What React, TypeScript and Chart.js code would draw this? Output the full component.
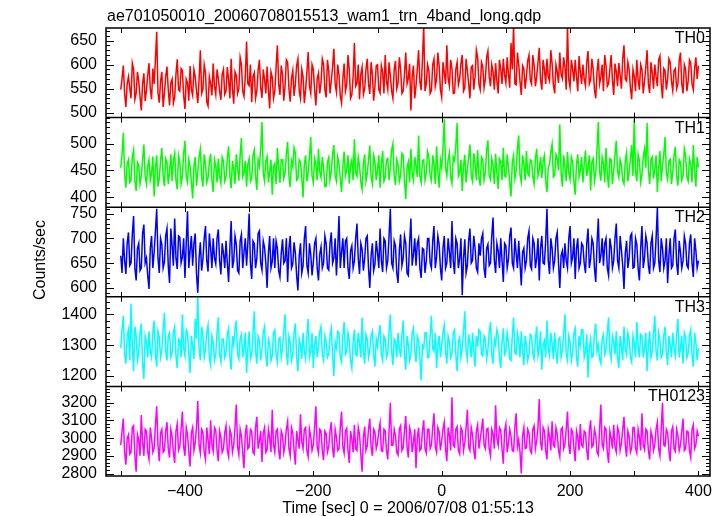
import React, { useEffect, useRef } from 'react';
import { Chart, registerables } from 'chart.js';

Chart.register(...registerables);

const TITLE = 'ae701050010_20060708015513_wam1_trn_4band_long.qdp';
const X_LABEL = 'Time [sec] 0 = 2006/07/08 01:55:13';
const Y_LABEL = 'Counts/sec';

const TIME_START = -500;
const TIME_STEP = 2;
const X_MIN = -523;
const X_MAX = 418;
const X_TICKS = [-400, -200, 0, 200, 400];

const PANEL_NAMES = ['TH0', 'TH1', 'TH2', 'TH3', 'TH0123'];
const PANEL_COLORS = ['#ff0000', '#00ff00', '#0000ff', '#00ffff', '#ff00ff'];

const TH0 = [
  548,571,598,540,512,560,575,552,530,603,590,528,541,585,566,533,505,560,582,524,547,578,603,550,528,592,560,610,668,540,521,566,585,512,540,575,596,548,515,562,
  570,520,532,580,611,548,545,592,588,535,508,570,562,525,597,548,536,590,575,545,520,568,630,540,549,600,583,522,514,575,560,536,602,555,538,590,571,545,527,580,
  590,538,545,595,568,530,612,550,519,585,577,540,550,615,600,545,534,575,648,560,556,600,522,575,583,530,545,588,610,552,531,590,569,540,596,548,509,585,574,530,
  545,595,640,560,537,598,580,525,556,610,605,550,523,572,588,535,560,598,612,545,530,590,575,520,548,585,626,555,540,600,590,548,515,570,582,540,562,612,601,548,
  532,610,587,540,566,595,633,560,543,600,579,535,520,570,602,545,558,620,590,530,537,575,645,555,561,600,528,580,595,538,550,590,612,560,539,605,580,525,556,598,
  600,548,541,598,585,540,620,565,548,605,576,545,530,590,608,550,562,615,591,540,545,580,625,560,571,602,505,575,598,530,556,592,630,565,547,610,680,545,560,600,
  588,540,546,600,612,555,570,625,598,548,532,605,583,560,640,572,556,610,592,540,541,590,605,558,570,602,620,545,552,612,587,560,530,595,598,548,575,630,615,560,
  548,605,596,552,570,615,628,575,555,600,585,548,603,565,540,610,590,560,612,578,562,615,580,552,645,590,680,560,558,625,600,565,537,598,592,550,575,608,620,568,
  560,620,598,555,575,605,635,568,548,610,590,560,612,575,566,630,602,558,540,600,585,562,625,580,571,615,596,548,682,570,553,610,590,565,610,575,545,618,584,560,
  600,570,556,605,628,560,568,612,590,548,530,585,612,560,575,600,545,620,598,555,560,590,620,568,537,602,585,555,603,578,550,612,640,570,566,605,590,552,528,590,
  575,545,610,570,548,600,590,540,565,595,630,560,541,605,583,550,600,575,555,610,618,560,530,592,587,548,570,612,605,565,546,588,592,550,560,608,625,560,540,600,
  590,545,566,610,604,560,548,592,615,570,598,
];

const TH1 = [
  455,480,520,445,418,462,470,428,432,475,488,430,412,465,460,425,440,470,498,440,425,458,470,432,445,476,402,455,478,420,436,468,492,440,421,472,465,425,447,480,
  430,468,482,432,415,478,466,425,440,482,505,438,428,470,457,430,398,458,475,422,448,475,490,438,420,480,462,428,437,465,481,432,410,470,458,428,472,440,426,475,
  468,430,438,472,495,440,417,468,452,425,480,455,431,478,510,438,445,468,420,462,472,430,436,478,488,440,414,470,458,490,540,445,430,468,476,428,449,470,405,458,
  463,425,492,455,427,470,470,435,445,480,503,440,419,468,457,492,482,432,435,470,466,438,400,462,478,430,446,475,512,440,428,472,461,432,490,448,437,475,455,420,
  421,465,474,432,448,480,497,440,430,475,462,435,410,458,485,440,451,478,426,460,470,432,508,445,439,475,458,428,415,462,480,430,444,470,496,438,425,478,467,432,
  450,478,418,462,486,430,437,470,472,432,455,488,500,440,423,470,461,430,441,482,478,432,397,455,466,428,490,445,432,475,458,438,515,440,428,468,470,432,446,485,
  475,440,431,478,462,425,495,448,418,470,455,492,545,455,440,470,483,438,426,475,468,495,538,440,447,470,412,458,479,428,452,475,498,440,430,482,463,432,488,438,
  422,475,470,432,445,488,506,440,433,472,459,425,481,445,416,472,467,432,492,440,438,480,455,428,402,465,478,435,450,490,515,442,429,478,461,432,486,445,440,470,
  468,438,425,472,490,440,452,475,436,468,478,432,410,455,462,485,499,438,441,480,473,450,535,445,420,478,457,430,484,445,433,475,466,428,405,462,480,438,451,475,
  428,462,487,440,456,478,413,465,472,430,446,490,540,448,431,475,463,428,492,445,418,472,470,425,450,480,505,448,437,470,460,432,425,468,483,430,446,472,497,440,
  545,448,430,480,468,428,442,475,490,455,538,450,425,470,475,435,452,478,410,455,486,430,460,480,512,445,433,468,471,425,447,478,494,440,422,470,465,432,440,490,
  478,438,430,472,462,428,497,450,420,475,456,
];

const TH2 = [
  665,630,700,655,628,690,712,645,650,708,745,640,615,680,690,635,640,710,728,650,660,625,598,680,705,640,672,715,760,660,630,700,688,640,652,705,720,645,610,720,
  685,645,740,660,638,705,702,650,662,700,620,690,755,640,675,705,645,690,710,628,590,660,692,635,658,700,725,655,633,710,680,640,700,660,648,700,718,655,627,690,
  670,640,695,650,612,680,735,640,655,705,688,635,630,695,708,640,672,700,645,690,750,650,618,695,690,640,660,710,715,650,636,695,682,650,600,670,705,640,653,700,
  640,695,680,635,622,670,698,650,655,700,612,680,705,640,648,692,670,625,595,665,690,630,645,700,725,645,630,690,668,625,652,690,700,640,615,668,683,640,650,705,
  690,640,636,690,712,650,660,700,625,680,745,640,672,700,640,695,700,640,618,675,685,640,655,700,730,660,628,690,678,635,660,700,705,640,600,665,690,635,648,695,
  672,640,720,655,632,700,695,640,655,705,760,650,640,695,685,630,610,675,708,645,660,705,690,630,625,690,740,645,668,700,645,690,700,640,620,680,678,630,655,700,
  700,650,640,695,725,640,662,705,688,640,615,680,705,640,650,700,672,640,735,655,628,700,690,640,660,700,585,660,698,630,645,695,720,650,655,705,680,640,632,690,
  665,700,710,640,620,680,688,645,650,705,742,655,630,690,675,640,700,655,612,690,685,640,658,705,722,650,640,700,670,640,695,650,605,672,680,640,655,700,715,645,
  638,700,690,640,660,700,615,680,705,650,648,695,760,655,628,700,680,640,655,700,712,650,600,665,675,640,690,655,640,700,725,650,662,700,618,680,700,640,650,690,
  685,650,630,690,720,640,658,700,690,640,612,690,740,650,665,700,645,690,700,640,625,700,682,640,655,700,730,655,640,705,676,645,598,670,695,640,660,705,710,640,
  642,700,688,640,615,680,725,640,660,705,690,645,628,690,705,640,650,700,762,655,632,700,680,640,655,700,610,665,700,640,645,700,718,650,626,695,672,640,655,705,
  690,645,640,690,708,650,622,700,675,640,655,
];

const TH3 = [
  1290,1350,1395,1270,1240,1330,1350,1250,1435,1300,1215,1360,1330,1250,1275,1340,1370,1240,1190,1330,1310,1260,1345,1280,1260,1340,1380,1270,1230,1345,1325,1260,1285,1350,1405,1280,1250,1330,1340,1260,
  1275,1340,1360,1265,1225,1320,1315,1260,1400,1290,1265,1350,1340,1270,1210,1330,1300,1255,1385,1320,1460,1290,1250,1360,1330,1260,1285,1340,1365,1260,1235,1330,1310,1250,1270,1340,1390,1270,1245,1320,
  1320,1260,1275,1335,1355,1260,1220,1330,1300,1350,1380,1270,1255,1320,1335,1260,1290,1340,1210,1290,1345,1255,1270,1335,1410,1280,1240,1330,1315,1250,1285,1340,1360,1270,1230,1320,1305,1250,1265,1340,
  1350,1270,1245,1320,1325,1260,1290,1345,1400,1280,1235,1330,1310,1250,1270,1340,1370,1260,1215,1320,1300,1255,1340,1280,1255,1330,1385,1260,1280,1340,1225,1300,1330,1260,1295,1345,1360,1270,1250,1330,
  1310,1260,1270,1330,1355,1270,1200,1310,1290,1345,1340,1260,1245,1330,1375,1270,1280,1340,1315,1250,1225,1310,1350,1270,1265,1340,1305,1260,1390,1280,1240,1335,1320,1260,1285,1330,1345,1270,1230,1320,
  1295,1335,1365,1270,1250,1330,1320,1260,1275,1345,1400,1280,1235,1320,1310,1260,1340,1290,1260,1330,1380,1270,1220,1330,1300,1250,1270,1340,1355,1280,1245,1330,1315,1260,1185,1300,1290,1340,1340,1260,
  1260,1330,1395,1290,1280,1340,1225,1300,1330,1260,1300,1340,1365,1280,1240,1330,1310,1260,1275,1340,1350,1270,1215,1310,1325,1260,1290,1345,1410,1280,1255,1335,1305,1260,1340,1280,1230,1330,1295,1350,
  1345,1270,1265,1330,1320,1255,1285,1340,1375,1270,1240,1320,1300,1350,1330,1260,1225,1310,1355,1270,1280,1340,1310,1255,1250,1330,1390,1275,1270,1340,1315,1260,1345,1280,1235,1330,1300,1250,1270,1335,
  1330,1270,1255,1320,1360,1265,1290,1345,1220,1300,1315,1260,1380,1290,1265,1340,1305,1255,1340,1280,1240,1320,1325,1260,1285,1335,1400,1270,1250,1330,1310,1250,1275,1340,1355,1260,1230,1330,1300,1350,
  1350,1260,1280,1335,1195,1290,1320,1260,1265,1340,1370,1280,1300,1255,1240,1320,1335,1270,1285,1340,1390,1280,1255,1330,1310,1270,1345,1260,1225,1330,1295,1250,1360,1290,1270,1340,1320,1260,1245,1330,
  1305,1260,1375,1300,1260,1335,1330,1260,1290,1340,1215,1300,1345,1260,1280,1335,1395,1280,1250,1340,1315,1260,1270,1330,1360,1280,1235,1330,1300,1260,1340,1290,1265,1335,1385,1260,1290,1330,1240,1340,
  1325,1260,1275,1330,1350,1270,1230,1340,1310,1250,1290,
];

const TH0123 = [
  2960,3040,3110,2920,2850,3000,3020,2910,2920,3060,3070,2900,2810,3020,2990,2900,3130,2980,2900,3050,3040,2920,2880,3060,3000,2920,2945,3070,3180,2960,2870,3030,3050,2920,2930,3040,3090,2940,2890,3050,
  3010,2920,2860,3040,3080,2930,2950,3050,3150,2950,2900,3060,3020,2920,2840,3030,3060,2930,2975,3060,3210,2960,2915,3050,3035,2920,2880,3060,2990,2910,3100,2960,2925,3060,3045,2930,2870,3040,3005,2920,
  2940,3030,3070,2930,2895,3050,3020,2920,2960,3060,3190,2950,2905,3050,3010,2920,2830,3020,3075,2940,2950,3050,3040,2920,2910,3060,3120,2940,2985,3040,2865,3030,3060,2920,2935,3050,3000,2920,3160,2960,
  2920,3040,3050,2930,2880,3040,3015,2920,2965,3050,3095,2940,2900,3060,3030,2930,2850,3040,2990,2940,3135,2980,2940,3050,3060,2930,2895,3050,3010,2930,2960,3060,3180,2950,2915,3050,3040,2930,2875,3040,
  3025,2920,2950,3040,3090,2940,2890,3050,3005,2930,2940,3060,3150,2950,2915,3040,3055,2930,2860,3040,2995,2920,3075,2940,2930,3060,3020,2910,2810,3000,3065,2930,2955,3050,3110,2950,2900,3050,3035,2940,
  2970,3040,3085,2930,2925,3050,3040,2930,2880,3040,3200,2960,2960,3050,3015,2920,2905,3050,3070,2930,2945,3040,3125,2950,2890,3060,3030,2920,2975,3050,2830,3000,3060,2930,2940,3040,3100,2940,2915,3050,
  3050,2940,2960,3060,3140,2950,2920,3060,3035,2930,2985,3050,3090,2940,2870,3060,3015,2930,3230,2960,2950,3050,3065,2930,2910,3060,3040,2930,2975,3060,3160,2950,2930,3060,3020,2930,2880,3040,3075,2940,
  2995,3050,3110,2960,2940,3050,3055,2940,2900,3050,3025,2940,3185,3000,2960,3060,3045,2940,2855,3040,3080,2920,2970,3050,3010,2930,2925,3060,3140,2950,2990,2920,2800,3010,3060,2940,2945,3050,3030,2930,
  2915,3050,3070,2940,2985,3060,3220,2980,2930,3060,3040,2930,2880,3050,3010,2930,3095,2960,2950,3060,3025,2930,2895,3050,3060,2940,2965,3050,3150,2960,2910,3050,3035,2940,2870,3040,3005,2930,3080,2960,
  2950,3040,3030,2930,2875,3040,3100,2950,2960,3050,3015,2920,2905,3050,3190,2960,2940,3060,3050,2920,2860,3040,3000,2940,3075,2950,2920,3060,3035,2930,2970,3050,3120,2960,2895,3040,3010,2920,2945,3060,
  3060,2940,2915,3050,3005,2930,3140,2960,2935,3050,3040,2930,2880,3040,3010,2930,2965,3050,3090,2940,2900,3050,3200,2960,2955,3050,3030,2930,2870,3040,3065,2940,2925,3050,3015,2930,2960,3040,3110,2930,
  2940,3040,3035,2930,2890,3050,3075,2940,2960,3040,3010,
];

const TH0_TICKS = [500, 550, 600, 650];
const TH1_TICKS = [400, 450, 500];
const TH2_TICKS = [600, 650, 700, 750];
const TH3_TICKS = [1200, 1300, 1400];
const TH0123_TICKS = [2800, 2900, 3000, 3100, 3200];

const Y_MIN = [490, 382, 582, 1166, 2786];
const Y_MAX = [676, 548, 763, 1457, 3292];
const MINOR_STEP = [10, 10, 10, 20, 20];
const MAJOR_STEP = [50, 50, 50, 100, 100];

const FONT = '"Liberation Sans", Arial, Helvetica, sans-serif';

const SERIES = [TH0, TH1, TH2, TH3, TH0123];
const TICKS = [TH0_TICKS, TH1_TICKS, TH2_TICKS, TH3_TICKS, TH0123_TICKS];

const fmt = (v: number) => (v < 0 ? '\u2212' + Math.abs(v) : String(v));

export default function App() {
  const ref = useRef<HTMLCanvasElement | null>(null);

  useEffect(() => {
    const canvas = ref.current;
    if (!canvas) return;

    const panels = PANEL_NAMES.map((name, i) => ({
      key: 'y' + name,
      name,
      color: PANEL_COLORS[i],
      data: SERIES[i],
      ticks: TICKS[i],
      min: Y_MIN[i],
      max: Y_MAX[i],
      minor: MINOR_STEP[i],
      major: MAJOR_STEP[i],
    }));

    const scales: any = {
      x: {
        type: 'linear',
        position: 'bottom',
        min: X_MIN,
        max: X_MAX,
        grid: { display: false, drawTicks: false },
        border: { display: false },
        afterBuildTicks: (s: any) => {
          s.ticks = X_TICKS.map((v) => ({ value: v }));
        },
        afterFit: (s: any) => {
          s.height = 40;
        },
        ticks: {
          padding: 6,
          color: '#000',
          font: { family: FONT, size: 16 },
          maxRotation: 0,
          autoSkip: false,
          callback: (v: any) => fmt(Number(v)),
        },
      },
    };
    [...panels].reverse().forEach((p) => {
      scales[p.key] = {
        type: 'linear',
        position: 'left',
        stack: 'panels',
        stackWeight: 1,
        offset: false,
        min: p.min,
        max: p.max,
        grid: { display: false, drawTicks: false },
        border: { display: false },
        afterBuildTicks: (s: any) => {
          s.ticks = p.ticks.map((v) => ({ value: v }));
        },
        afterFit: (s: any) => {
          s.width = 106;
        },
        ticks: {
          padding: 9,
          color: '#000',
          autoSkip: false,
          font: { family: FONT, size: 16 },
          callback: (v: any) => fmt(Number(v)),
        },
      };
    });

    const datasets = panels.map((p) => ({
      label: p.name,
      yAxisID: p.key,
      xAxisID: 'x',
      data: p.data.map((v, i) => ({ x: TIME_START + TIME_STEP * i, y: v })),
      borderColor: p.color,
      backgroundColor: p.color,
      borderWidth: 1.5,
      pointRadius: 0,
      tension: 0,
      fill: false,
    }));

    const line = (ctx: CanvasRenderingContext2D, x1: number, y1: number, x2: number, y2: number) => {
      ctx.beginPath();
      ctx.moveTo(x1, y1);
      ctx.lineTo(x2, y2);
      ctx.stroke();
    };

    const qdpPlugin = {
      id: 'qdp',
      beforeDatasetDraw(chart: any, args: any) {
        const ys = chart.scales[args.meta.yAxisID];
        const ca = chart.chartArea;
        const ctx = chart.ctx;
        ctx.save();
        ctx.beginPath();
        ctx.rect(ca.left, ys.top, ca.right - ca.left, ys.bottom - ys.top);
        ctx.clip();
      },
      afterDatasetDraw(chart: any) {
        chart.ctx.restore();
      },
      afterDraw(chart: any) {
        const ctx: CanvasRenderingContext2D = chart.ctx;
        const ca = chart.chartArea;
        const xs = chart.scales.x;
        ctx.save();
        ctx.strokeStyle = '#000';
        ctx.lineWidth = 1;
        panels.forEach((p) => {
          const s = chart.scales[p.key];
          const k0 = Math.ceil(s.min / p.minor);
          const k1 = Math.floor(s.max / p.minor);
          for (let k = k0; k <= k1; k++) {
            const v = k * p.minor;
            const y = Math.round(s.getPixelForValue(v)) + 0.5;
            const len = v % p.major === 0 ? 8 : 4;
            line(ctx, ca.left, y, ca.left + len, y);
            line(ctx, ca.right - len, y, ca.right, y);
          }
          for (let v = -500; v <= 400; v += 100) {
            const x = Math.round(xs.getPixelForValue(v)) + 0.5;
            line(ctx, x, s.top, x, s.top + 5);
            line(ctx, x, s.bottom - 5, x, s.bottom);
          }
        });
        ctx.lineWidth = 1.5;
        ctx.strokeRect(ca.left, ca.top, ca.right - ca.left, ca.bottom - ca.top);
        panels.forEach((p, i) => {
          if (i === panels.length - 1) return;
          const s = chart.scales[p.key];
          line(ctx, ca.left, s.bottom, ca.right, s.bottom);
        });

        ctx.fillStyle = '#000';
        ctx.font = `16px ${FONT}`;
        ctx.textBaseline = 'alphabetic';
        ctx.textAlign = 'left';
        ctx.fillText(TITLE, 107, 21);
        ctx.textAlign = 'right';
        panels.forEach((p) => {
          const s = chart.scales[p.key];
          ctx.fillText(p.name, ca.right - 5, s.top + 15);
        });
        ctx.textAlign = 'center';
        ctx.fillText(X_LABEL, (ca.left + ca.right) / 2, 513);
        ctx.translate(41, 260);
        ctx.rotate(-Math.PI / 2);
        ctx.textBaseline = 'middle';
        ctx.fillText(Y_LABEL, 0, 0);
        ctx.restore();
      },
    };

    const chart = new Chart(canvas, {
      type: 'line',
      data: { datasets },
      options: {
        responsive: false,
        animation: false,
        events: [],
        layout: { padding: { top: 28, right: 14, left: 0, bottom: 0 } },
        plugins: {
          legend: { display: false },
          tooltip: { enabled: false },
          title: { display: false },
        },
        scales,
      },
      plugins: [qdpPlugin],
    } as any);

    return () => chart.destroy();
  }, []);

  return (
    <div style={{ position: 'fixed', left: 0, top: 0, width: 724, height: 516, background: '#fff' }}>
      <canvas ref={ref} width={724} height={516} style={{ display: 'block' }} />
    </div>
  );
}
